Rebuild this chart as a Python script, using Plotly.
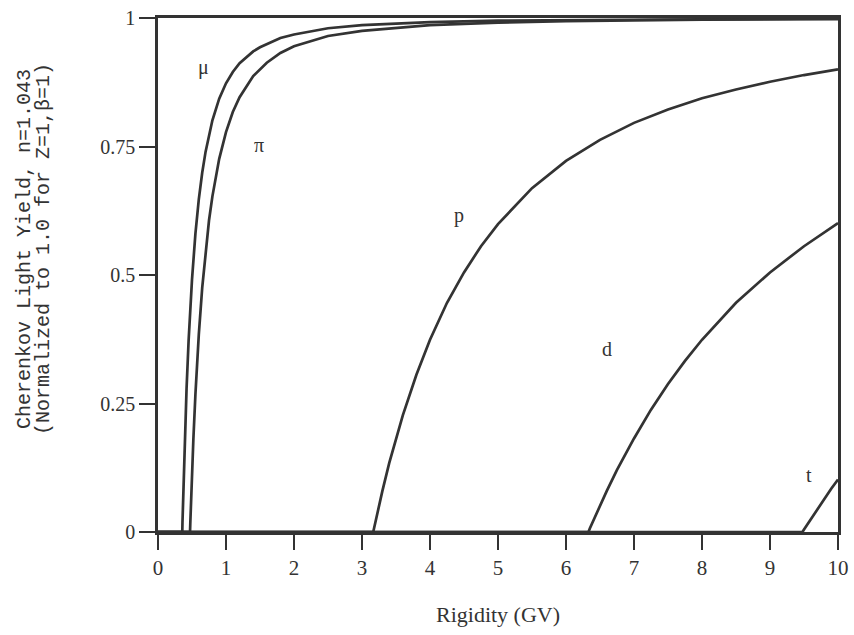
import plotly.graph_objects as go

# Rigidity (GV) and Cherenkov light yield
mu_x = [0, 0.357, 0.36, 0.37, 0.38, 0.40, 0.42, 0.45, 0.50, 0.55, 0.60, 0.65, 0.70, 0.80, 0.90, 1.0, 1.1, 1.2, 1.4, 1.5, 1.8, 2.0, 2.5, 3.0, 4.0, 5.0, 6.0, 8.0, 10.0]
mu_y = [0, 0, 0.019, 0.071, 0.119, 0.205, 0.279, 0.372, 0.491, 0.580, 0.647, 0.699, 0.740, 0.801, 0.843, 0.873, 0.895, 0.912, 0.935, 0.943, 0.961, 0.968, 0.980, 0.986, 0.992, 0.995, 0.996, 0.998, 0.999]

pi_x = [0, 0.471, 0.475, 0.48, 0.49, 0.50, 0.52, 0.55, 0.60, 0.65, 0.70, 0.75, 0.80, 0.90, 1.0, 1.1, 1.2, 1.4, 1.6, 1.8, 2.0, 2.5, 3.0, 4.0, 5.0, 6.0, 8.0, 10.0]
pi_y = [0, 0, 0.017, 0.037, 0.076, 0.113, 0.180, 0.267, 0.384, 0.475, 0.547, 0.606, 0.653, 0.726, 0.778, 0.817, 0.846, 0.887, 0.913, 0.932, 0.945, 0.965, 0.975, 0.986, 0.991, 0.994, 0.997, 0.998]

p_x = [0, 3.165, 3.17, 3.2, 3.25, 3.3, 3.4, 3.5, 3.6, 3.8, 4.0, 4.25, 4.5, 4.75, 5.0, 5.5, 6.0, 6.5, 7.0, 7.5, 8.0, 8.5, 9.0, 9.5, 10.0]
p_y = [0, 0, 0.003, 0.022, 0.052, 0.080, 0.134, 0.182, 0.227, 0.306, 0.374, 0.446, 0.505, 0.556, 0.599, 0.669, 0.722, 0.763, 0.796, 0.822, 0.844, 0.861, 0.876, 0.889, 0.900]

d_x = [0, 6.33, 6.35, 6.4, 6.5, 6.6, 6.75, 7.0, 7.25, 7.5, 7.75, 8.0, 8.5, 9.0, 9.5, 10.0]
d_y = [0, 0, 0.007, 0.022, 0.052, 0.080, 0.121, 0.182, 0.238, 0.288, 0.333, 0.374, 0.446, 0.505, 0.556, 0.601]

t_x = [0, 9.477, 9.5, 9.6, 9.7, 9.8, 9.9, 10.0]
t_y = [0, 0, 0.005, 0.025, 0.045, 0.065, 0.084, 0.102]

series = [(mu_x, mu_y), (pi_x, pi_y), (p_x, p_y), (d_x, d_y), (t_x, t_y)]

label_text = ["μ", "π", "p", "d", "t"]
label_x = [0.67, 1.48, 4.42, 6.6, 9.57]
label_y = [0.903, 0.753, 0.615, 0.356, 0.111]

x_ticks = [0, 1, 2, 3, 4, 5, 6, 7, 8, 9, 10]
y_ticks = [0, 0.25, 0.5, 0.75, 1]
y_tick_text = ["0", "0.25", "0.5", "0.75", "1"]

x_title = "Rigidity (GV)"
y_title_lines = ["Cherenkov Light Yield, n=1.043", "(Normalized to 1.0 for Z=1,β=1)"]
y_title_x = [-0.196, -0.168]

ink = "#333333"
serif = "Liberation Serif"

fig = go.Figure()
for sx, sy in series:
    fig.add_trace(go.Scatter(x=sx, y=sy, mode="lines",
                             line=dict(color=ink, width=2.7),
                             showlegend=False, hoverinfo="skip"))

for t, lx, ly in zip(label_text, label_x, label_y):
    fig.add_annotation(x=lx, y=ly, text=t, showarrow=False,
                       font=dict(family=serif, size=20, color=ink))

for line, px in zip(y_title_lines, y_title_x):
    fig.add_annotation(xref="paper", yref="paper", x=px, y=0.55,
                       text=line, textangle=-90, showarrow=False,
                       xanchor="center", yanchor="middle",
                       font=dict(family="Liberation Mono", size=20, color="#333333"))

fig.add_annotation(xref="paper", yref="paper", x=0.5, y=-0.16, text=x_title,
                   showarrow=False, xanchor="center", yanchor="middle",
                   font=dict(family=serif, size=22, color=ink))

fig.update_layout(
    width=854, height=635,
    margin=dict(l=158, r=16, t=18, b=103),
    paper_bgcolor="white", plot_bgcolor="white",
    font=dict(family=serif, size=18, color=ink),
    xaxis=dict(range=[0, 10], tickvals=x_ticks, ticks="outside", ticklen=15,
               tickwidth=2, tickcolor=ink, showline=True, linewidth=2.5,
               linecolor=ink, mirror=True, showgrid=False, zeroline=False,
               automargin=False, ticklabeloverflow="allow",
               tickfont=dict(family=serif, size=21, color=ink)),
    yaxis=dict(range=[0, 1], tickvals=y_ticks, ticktext=y_tick_text,
               ticks="outside", ticklen=16, tickwidth=2, tickcolor=ink,
               showline=True, linewidth=2.5, linecolor=ink, mirror=True,
               showgrid=False, zeroline=False, automargin=False,
               ticklabeloverflow="allow",
               tickfont=dict(family=serif, size=20, color=ink)),
)

# remove the page's default 8px body margin so the figure sits at the window origin
fig.write_html("out.html", config={"displayModeBar": False},
               post_script="document.body.style.margin='0';document.body.style.overflow='hidden';")
